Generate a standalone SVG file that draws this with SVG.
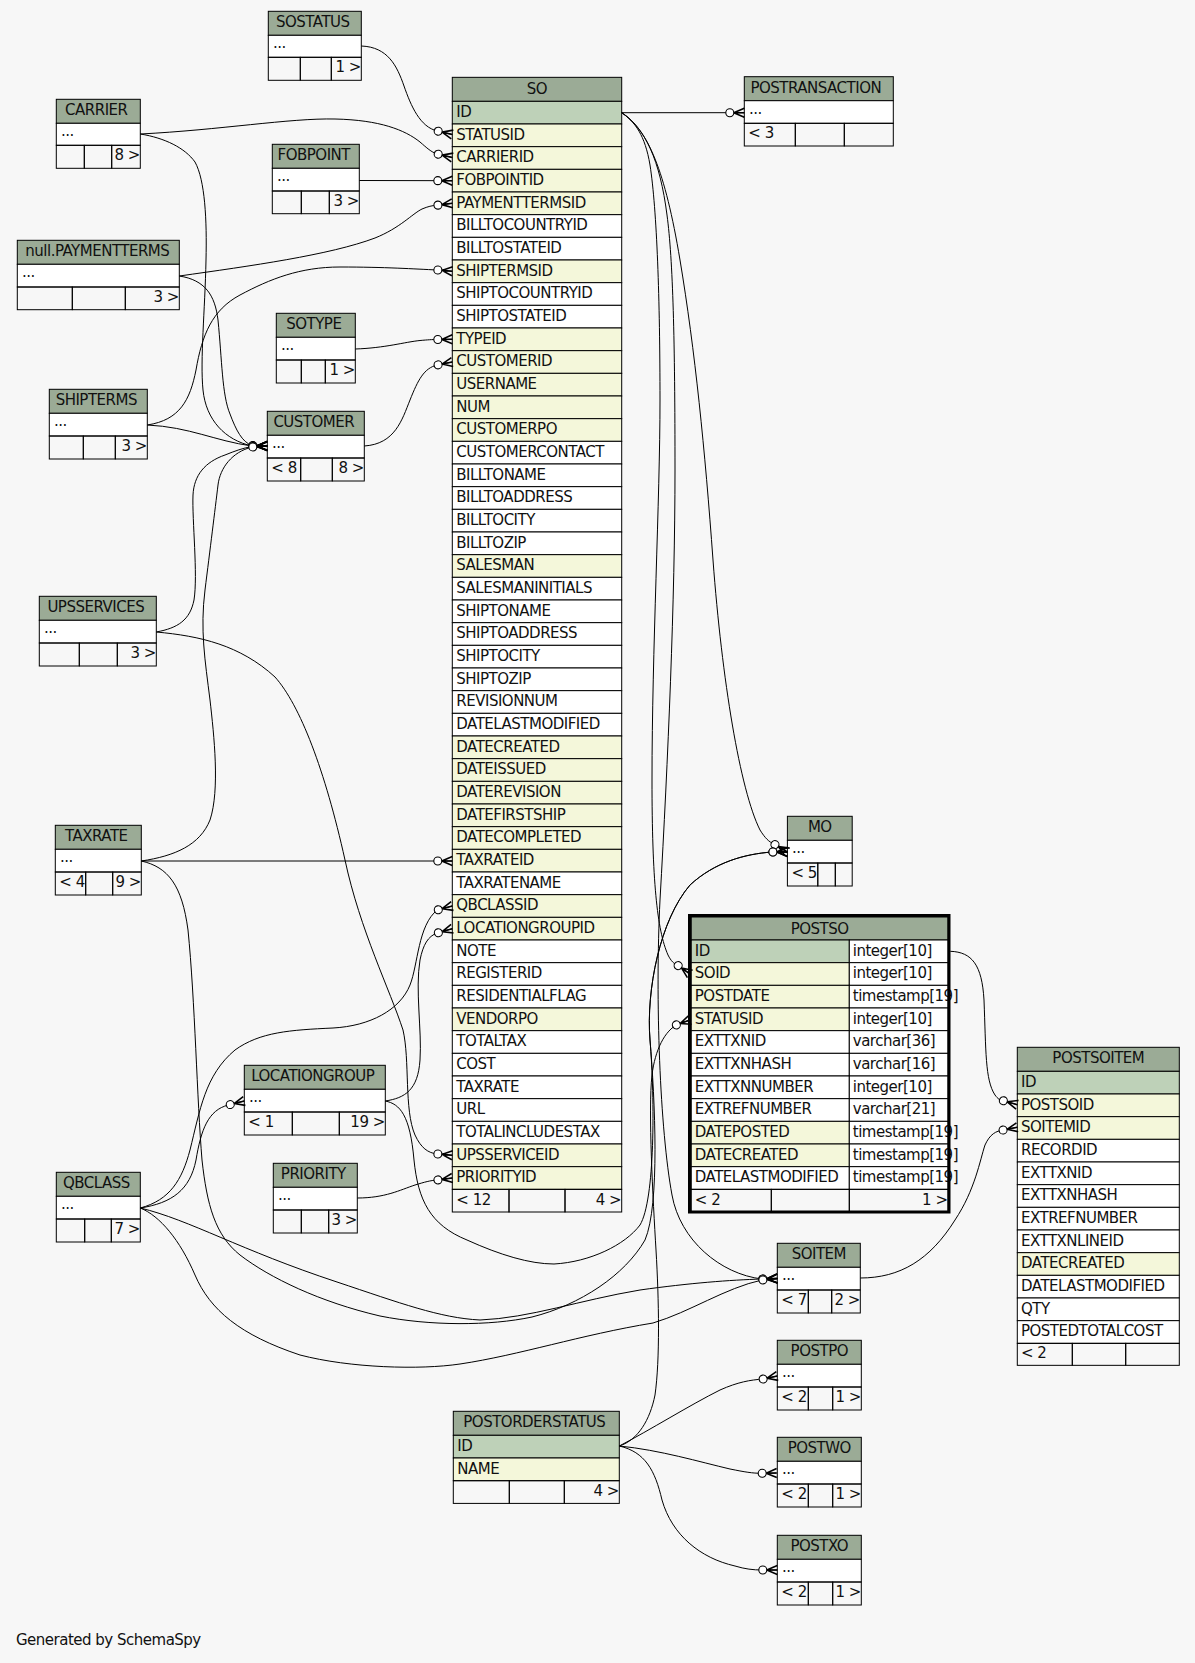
<svg xmlns="http://www.w3.org/2000/svg" width="1195" height="1663" viewBox="0 0 1195 1663">
<style>
text{font-family:"DejaVu Sans","Liberation Sans",sans-serif;font-size:15px;letter-spacing:-0.5px;fill:#111}
.m{text-anchor:middle}.r{text-anchor:end}
.h{fill:#9bab96;stroke:#000;stroke-width:1}
.k{fill:#bed1b8;stroke:#000;stroke-width:1}
.i{fill:#f4f7da;stroke:#000;stroke-width:1}
.w{fill:#fff;stroke:#000;stroke-width:1}
.f{fill:none;stroke:#000;stroke-width:1}
.e{fill:none;stroke:#000;stroke-width:1;marker-end:url(#cf)}
</style>
<defs>
<marker id="cf" markerUnits="userSpaceOnUse" markerWidth="20" markerHeight="12" viewBox="0 0 20 12" refX="19" refY="6" orient="auto" overflow="visible">
<path d="M8.5,6 L19,1.5 M8.5,6 L19,6 M8.5,6 L19,10.5" fill="none" stroke="#000" stroke-width="1.6"/>
<circle cx="4.5" cy="6" r="4" fill="#fff" stroke="#000" stroke-width="1.1"/>
</marker>
</defs>
<rect width="1195" height="1663" fill="#f7f7f7"/>

<g id="SOSTATUS">
<rect class="h" x="268.3" y="11.3" width="93" height="24"/><text class="m" x="312.8" y="27.3">SOSTATUS</text>
<rect class="w" x="268.3" y="35.3" width="93" height="22"/><text x="273" y="48.3">...</text>
<rect class="f" x="268.3" y="57.3" width="32" height="23"/><rect class="f" x="300.3" y="57.3" width="31" height="23"/><rect class="f" x="331.3" y="57.3" width="30" height="23"/>
<text class="r" x="360.8" y="72.3">1 &gt;</text>
</g>

<g id="CARRIER">
<rect class="h" x="56.3" y="99.3" width="84" height="24"/><text class="m" x="96.3" y="115.3">CARRIER</text>
<rect class="w" x="56.3" y="123.3" width="84" height="22"/><text x="61" y="136.3">...</text>
<rect class="f" x="56.3" y="145.3" width="28" height="23"/><rect class="f" x="84.3" y="145.3" width="27.4" height="23"/><rect class="f" x="111.7" y="145.3" width="28.6" height="23"/>
<text class="r" x="139.8" y="160.3">8 &gt;</text>
</g>

<g id="FOBPOINT">
<rect class="h" x="272.3" y="144.3" width="87" height="24"/><text class="m" x="313.8" y="160.3">FOBPOINT</text>
<rect class="w" x="272.3" y="168.3" width="87" height="22.7"/><text x="277" y="181.3">...</text>
<rect class="f" x="272.3" y="191" width="29" height="22.7"/><rect class="f" x="301.3" y="191" width="28" height="22.7"/><rect class="f" x="329.3" y="191" width="30" height="22.7"/>
<text class="r" x="358.8" y="206">3 &gt;</text>
</g>

<g id="null_PAYMENTTERMS">
<rect class="h" x="17.3" y="240.3" width="162" height="24"/><text class="m" x="97.3" y="256.3">null.PAYMENTTERMS</text>
<rect class="w" x="17.3" y="264.3" width="162" height="22.7"/><text x="22" y="277.3">...</text>
<rect class="f" x="17.3" y="287" width="55" height="22.7"/><rect class="f" x="72.3" y="287" width="53" height="22.7"/><rect class="f" x="125.3" y="287" width="54" height="22.7"/>
<text class="r" x="178.8" y="302">3 &gt;</text>
</g>

<g id="POSTRANSACTION">
<rect class="h" x="744.3" y="76.7" width="149" height="24"/><text class="m" x="815.8" y="92.7">POSTRANSACTION</text>
<rect class="w" x="744.3" y="100.7" width="149" height="22.6"/><text x="749" y="113.7">...</text>
<rect class="f" x="744.3" y="123.3" width="51" height="22.7"/><rect class="f" x="795.3" y="123.3" width="49" height="22.7"/><rect class="f" x="844.3" y="123.3" width="49" height="22.7"/>
<text x="748.3" y="138.3">&lt; 3</text>
</g>

<g id="SOTYPE">
<rect class="h" x="276.3" y="313.3" width="79" height="24"/><text class="m" x="313.8" y="329.3">SOTYPE</text>
<rect class="w" x="276.3" y="337.3" width="79" height="22.7"/><text x="281" y="350.3">...</text>
<rect class="f" x="276.3" y="360" width="25" height="23"/><rect class="f" x="301.3" y="360" width="24" height="23"/><rect class="f" x="325.3" y="360" width="30" height="23"/>
<text class="r" x="354.8" y="375">1 &gt;</text>
</g>

<g id="SHIPTERMS">
<rect class="h" x="49.3" y="389.3" width="98" height="24"/><text class="m" x="96.3" y="405.3">SHIPTERMS</text>
<rect class="w" x="49.3" y="413.3" width="98" height="22.7"/><text x="54" y="426.3">...</text>
<rect class="f" x="49.3" y="436" width="34" height="23"/><rect class="f" x="83.3" y="436" width="32" height="23"/><rect class="f" x="115.3" y="436" width="32" height="23"/>
<text class="r" x="146.8" y="451">3 &gt;</text>
</g>

<g id="CUSTOMER">
<rect class="h" x="267.3" y="411.3" width="97" height="24"/><text class="m" x="313.8" y="427.3">CUSTOMER</text>
<rect class="w" x="267.3" y="435.3" width="97" height="22.7"/><text x="272" y="448.3">...</text>
<rect class="f" x="267.3" y="458" width="33.4" height="23"/><rect class="f" x="300.7" y="458" width="31.6" height="23"/><rect class="f" x="332.3" y="458" width="32" height="23"/>
<text x="271.3" y="473">&lt; 8</text><text class="r" x="363.8" y="473">8 &gt;</text>
</g>

<g id="UPSSERVICES">
<rect class="h" x="39.3" y="596.3" width="117" height="24"/><text class="m" x="95.8" y="612.3">UPSSERVICES</text>
<rect class="w" x="39.3" y="620.3" width="117" height="22.7"/><text x="44" y="633.3">...</text>
<rect class="f" x="39.3" y="643" width="40" height="23"/><rect class="f" x="79.3" y="643" width="38" height="23"/><rect class="f" x="117.3" y="643" width="39" height="23"/>
<text class="r" x="155.8" y="658">3 &gt;</text>
</g>

<g id="TAXRATE">
<rect class="h" x="55.3" y="825.3" width="86" height="24"/><text class="m" x="96.3" y="841.3">TAXRATE</text>
<rect class="w" x="55.3" y="849.3" width="86" height="22.7"/><text x="60" y="862.3">...</text>
<rect class="f" x="55.3" y="872" width="30.4" height="23"/><rect class="f" x="85.7" y="872" width="27" height="23"/><rect class="f" x="112.7" y="872" width="28.6" height="23"/>
<text x="59.3" y="887">&lt; 4</text><text class="r" x="140.8" y="887">9 &gt;</text>
</g>

<g id="LOCATIONGROUP">
<rect class="h" x="244.3" y="1065.3" width="141" height="24"/><text class="m" x="312.8" y="1081.3">LOCATIONGROUP</text>
<rect class="w" x="244.3" y="1089.3" width="141" height="22.7"/><text x="249" y="1102.3">...</text>
<rect class="f" x="244.3" y="1112" width="48" height="23"/><rect class="f" x="292.3" y="1112" width="47" height="23"/><rect class="f" x="339.3" y="1112" width="46" height="23"/>
<text x="248.3" y="1127">&lt; 1</text><text class="r" x="384.8" y="1127">19 &gt;</text>
</g>

<g id="PRIORITY">
<rect class="h" x="273.3" y="1163.3" width="84" height="24"/><text class="m" x="313.3" y="1179.3">PRIORITY</text>
<rect class="w" x="273.3" y="1187.3" width="84" height="22.7"/><text x="278" y="1200.3">...</text>
<rect class="f" x="273.3" y="1210" width="28" height="23"/><rect class="f" x="301.3" y="1210" width="27.4" height="23"/><rect class="f" x="328.7" y="1210" width="28.6" height="23"/>
<text class="r" x="356.8" y="1225">3 &gt;</text>
</g>

<g id="QBCLASS">
<rect class="h" x="56.3" y="1172.3" width="84" height="24"/><text class="m" x="96.3" y="1188.3">QBCLASS</text>
<rect class="w" x="56.3" y="1196.3" width="84" height="22.7"/><text x="61" y="1209.3">...</text>
<rect class="f" x="56.3" y="1219" width="28.4" height="23"/><rect class="f" x="84.7" y="1219" width="26.6" height="23"/><rect class="f" x="111.3" y="1219" width="29" height="23"/>
<text class="r" x="139.8" y="1234">7 &gt;</text>
</g>

<g id="MO">
<rect class="h" x="787.4" y="816.3" width="64.8" height="24"/><text class="m" x="819.8" y="832.3">MO</text>
<rect class="w" x="787.4" y="840.3" width="64.8" height="22.7"/><text x="792" y="853.3">...</text>
<rect class="f" x="787.4" y="863" width="30.4" height="23"/><rect class="f" x="817.8" y="863" width="17.5" height="23"/><rect class="f" x="835.3" y="863" width="16.9" height="23"/>
<text x="791.4" y="878">&lt; 5</text>
</g>

<g id="SOITEM">
<rect class="h" x="777.3" y="1243.3" width="83" height="24"/><text class="m" x="818.8" y="1259.3">SOITEM</text>
<rect class="w" x="777.3" y="1267.3" width="83" height="22.7"/><text x="782" y="1280.3">...</text>
<rect class="f" x="777.3" y="1290" width="31" height="23"/><rect class="f" x="808.3" y="1290" width="23.4" height="23"/><rect class="f" x="831.7" y="1290" width="28.6" height="23"/>
<text x="781.3" y="1305">&lt; 7</text><text class="r" x="859.8" y="1305">2 &gt;</text>
</g>

<g id="POSTPO">
<rect class="h" x="777.3" y="1340.3" width="84" height="24"/><text class="m" x="819.3" y="1356.3">POSTPO</text>
<rect class="w" x="777.3" y="1364.3" width="84" height="22.7"/><text x="782" y="1377.3">...</text>
<rect class="f" x="777.3" y="1387" width="31" height="23"/><rect class="f" x="808.3" y="1387" width="24.4" height="23"/><rect class="f" x="832.7" y="1387" width="28.6" height="23"/>
<text x="781.3" y="1402">&lt; 2</text><text class="r" x="860.8" y="1402">1 &gt;</text>
</g>

<g id="POSTWO">
<rect class="h" x="777.3" y="1437.3" width="84" height="24"/><text class="m" x="819.3" y="1453.3">POSTWO</text>
<rect class="w" x="777.3" y="1461.3" width="84" height="22.7"/><text x="782" y="1474.3">...</text>
<rect class="f" x="777.3" y="1484" width="31" height="23"/><rect class="f" x="808.3" y="1484" width="24.4" height="23"/><rect class="f" x="832.7" y="1484" width="28.6" height="23"/>
<text x="781.3" y="1499">&lt; 2</text><text class="r" x="860.8" y="1499">1 &gt;</text>
</g>

<g id="POSTXO">
<rect class="h" x="777.3" y="1535.3" width="84" height="24"/><text class="m" x="819.3" y="1551.3">POSTXO</text>
<rect class="w" x="777.3" y="1559.3" width="84" height="22.7"/><text x="782" y="1572.3">...</text>
<rect class="f" x="777.3" y="1582" width="31" height="23"/><rect class="f" x="808.3" y="1582" width="24.4" height="23"/><rect class="f" x="832.7" y="1582" width="28.6" height="23"/>
<text x="781.3" y="1597">&lt; 2</text><text class="r" x="860.8" y="1597">1 &gt;</text>
</g>

<g id="POSTORDERSTATUS">
<rect class="h" x="453.3" y="1411.3" width="166" height="24"/><text class="m" x="534.3" y="1427.3">POSTORDERSTATUS</text>
<rect class="k" x="453.3" y="1435.3" width="166" height="22.7"/><text x="457.3" y="1450.8">ID</text>
<rect class="i" x="453.3" y="1458" width="166" height="22.7"/><text x="457.3" y="1473.5">NAME</text>
<rect class="f" x="453.3" y="1480.7" width="56" height="22.7"/><rect class="f" x="509.3" y="1480.7" width="55" height="22.7"/><rect class="f" x="564.3" y="1480.7" width="55" height="22.7"/>
<text class="r" x="618.8" y="1495.7">4 &gt;</text>
</g>

<g id="SO">
<rect class="h" x="452.3" y="77.33" width="169.4" height="24"/><text class="m" x="537" y="93.5">SO</text>
<rect class="k" x="452.3" y="101.33" width="169.4" height="22.67"/><text x="456.3" y="116.8">ID</text>
<rect class="i" x="452.3" y="124" width="169.4" height="22.67"/><text x="456.3" y="139.5">STATUSID</text>
<rect class="i" x="452.3" y="146.67" width="169.4" height="22.67"/><text x="456.3" y="162.2">CARRIERID</text>
<rect class="i" x="452.3" y="169.33" width="169.4" height="22.67"/><text x="456.3" y="184.8">FOBPOINTID</text>
<rect class="i" x="452.3" y="192" width="169.4" height="22.67"/><text x="456.3" y="207.5">PAYMENTTERMSID</text>
<rect class="w" x="452.3" y="214.67" width="169.4" height="22.67"/><text x="456.3" y="230.2">BILLTOCOUNTRYID</text>
<rect class="w" x="452.3" y="237.33" width="169.4" height="22.67"/><text x="456.3" y="252.8">BILLTOSTATEID</text>
<rect class="i" x="452.3" y="260" width="169.4" height="22.67"/><text x="456.3" y="275.5">SHIPTERMSID</text>
<rect class="w" x="452.3" y="282.67" width="169.4" height="22.67"/><text x="456.3" y="298.2">SHIPTOCOUNTRYID</text>
<rect class="w" x="452.3" y="305.33" width="169.4" height="22.67"/><text x="456.3" y="320.8">SHIPTOSTATEID</text>
<rect class="i" x="452.3" y="328" width="169.4" height="22.67"/><text x="456.3" y="343.5">TYPEID</text>
<rect class="i" x="452.3" y="350.67" width="169.4" height="22.67"/><text x="456.3" y="366.2">CUSTOMERID</text>
<rect class="i" x="452.3" y="373.33" width="169.4" height="22.67"/><text x="456.3" y="388.8">USERNAME</text>
<rect class="i" x="452.3" y="396" width="169.4" height="22.67"/><text x="456.3" y="411.5">NUM</text>
<rect class="i" x="452.3" y="418.67" width="169.4" height="22.67"/><text x="456.3" y="434.2">CUSTOMERPO</text>
<rect class="w" x="452.3" y="441.33" width="169.4" height="22.67"/><text x="456.3" y="456.8">CUSTOMERCONTACT</text>
<rect class="w" x="452.3" y="464" width="169.4" height="22.67"/><text x="456.3" y="479.5">BILLTONAME</text>
<rect class="w" x="452.3" y="486.67" width="169.4" height="22.67"/><text x="456.3" y="502.2">BILLTOADDRESS</text>
<rect class="w" x="452.3" y="509.33" width="169.4" height="22.67"/><text x="456.3" y="524.8">BILLTOCITY</text>
<rect class="w" x="452.3" y="532" width="169.4" height="22.67"/><text x="456.3" y="547.5">BILLTOZIP</text>
<rect class="i" x="452.3" y="554.67" width="169.4" height="22.67"/><text x="456.3" y="570.2">SALESMAN</text>
<rect class="w" x="452.3" y="577.33" width="169.4" height="22.67"/><text x="456.3" y="592.8">SALESMANINITIALS</text>
<rect class="w" x="452.3" y="600" width="169.4" height="22.67"/><text x="456.3" y="615.5">SHIPTONAME</text>
<rect class="w" x="452.3" y="622.67" width="169.4" height="22.67"/><text x="456.3" y="638.2">SHIPTOADDRESS</text>
<rect class="w" x="452.3" y="645.33" width="169.4" height="22.67"/><text x="456.3" y="660.8">SHIPTOCITY</text>
<rect class="w" x="452.3" y="668" width="169.4" height="22.67"/><text x="456.3" y="683.5">SHIPTOZIP</text>
<rect class="w" x="452.3" y="690.67" width="169.4" height="22.67"/><text x="456.3" y="706.2">REVISIONNUM</text>
<rect class="w" x="452.3" y="713.33" width="169.4" height="22.67"/><text x="456.3" y="728.8">DATELASTMODIFIED</text>
<rect class="i" x="452.3" y="736" width="169.4" height="22.67"/><text x="456.3" y="751.5">DATECREATED</text>
<rect class="i" x="452.3" y="758.67" width="169.4" height="22.67"/><text x="456.3" y="774.2">DATEISSUED</text>
<rect class="i" x="452.3" y="781.33" width="169.4" height="22.67"/><text x="456.3" y="796.8">DATEREVISION</text>
<rect class="i" x="452.3" y="804" width="169.4" height="22.67"/><text x="456.3" y="819.5">DATEFIRSTSHIP</text>
<rect class="i" x="452.3" y="826.67" width="169.4" height="22.67"/><text x="456.3" y="842.2">DATECOMPLETED</text>
<rect class="i" x="452.3" y="849.33" width="169.4" height="22.67"/><text x="456.3" y="864.8">TAXRATEID</text>
<rect class="w" x="452.3" y="872" width="169.4" height="22.67"/><text x="456.3" y="887.5">TAXRATENAME</text>
<rect class="i" x="452.3" y="894.67" width="169.4" height="22.67"/><text x="456.3" y="910.2">QBCLASSID</text>
<rect class="i" x="452.3" y="917.33" width="169.4" height="22.67"/><text x="456.3" y="932.8">LOCATIONGROUPID</text>
<rect class="w" x="452.3" y="940" width="169.4" height="22.67"/><text x="456.3" y="955.5">NOTE</text>
<rect class="w" x="452.3" y="962.67" width="169.4" height="22.67"/><text x="456.3" y="978.2">REGISTERID</text>
<rect class="w" x="452.3" y="985.33" width="169.4" height="22.67"/><text x="456.3" y="1000.8">RESIDENTIALFLAG</text>
<rect class="i" x="452.3" y="1008" width="169.4" height="22.67"/><text x="456.3" y="1023.5">VENDORPO</text>
<rect class="w" x="452.3" y="1030.67" width="169.4" height="22.67"/><text x="456.3" y="1046.2">TOTALTAX</text>
<rect class="w" x="452.3" y="1053.33" width="169.4" height="22.67"/><text x="456.3" y="1068.8">COST</text>
<rect class="w" x="452.3" y="1076" width="169.4" height="22.67"/><text x="456.3" y="1091.5">TAXRATE</text>
<rect class="w" x="452.3" y="1098.67" width="169.4" height="22.67"/><text x="456.3" y="1114.2">URL</text>
<rect class="w" x="452.3" y="1121.33" width="169.4" height="22.67"/><text x="456.3" y="1136.8">TOTALINCLUDESTAX</text>
<rect class="i" x="452.3" y="1144" width="169.4" height="22.67"/><text x="456.3" y="1159.5">UPSSERVICEID</text>
<rect class="i" x="452.3" y="1166.67" width="169.4" height="22.67"/><text x="456.3" y="1182.2">PRIORITYID</text>
<rect class="f" x="452.3" y="1189.33" width="56.7" height="22.67"/><rect class="f" x="509" y="1189.33" width="56" height="22.67"/><rect class="f" x="565" y="1189.33" width="56.7" height="22.67"/>
<text x="456.3" y="1204.5">&lt; 12</text><text class="r" x="621.2" y="1204.5">4 &gt;</text>
</g>

<g id="POSTSO">
<rect class="h" x="691.3" y="917" width="256.7" height="23"/><text class="m" x="819.6" y="933.5">POSTSO</text>
<rect class="k" x="691.3" y="940" width="158" height="22.67"/><rect class="w" x="849.3" y="940" width="98.7" height="22.67"/><text x="694.8" y="955.5">ID</text><text x="852.8" y="955.5">integer[10]</text>
<rect class="i" x="691.3" y="962.67" width="158" height="22.67"/><rect class="w" x="849.3" y="962.67" width="98.7" height="22.67"/><text x="694.8" y="978.2">SOID</text><text x="852.8" y="978.2">integer[10]</text>
<rect class="i" x="691.3" y="985.33" width="158" height="22.67"/><rect class="w" x="849.3" y="985.33" width="98.7" height="22.67"/><text x="694.8" y="1000.8">POSTDATE</text><text x="852.8" y="1000.8">timestamp[19]</text>
<rect class="i" x="691.3" y="1008" width="158" height="22.67"/><rect class="w" x="849.3" y="1008" width="98.7" height="22.67"/><text x="694.8" y="1023.5">STATUSID</text><text x="852.8" y="1023.5">integer[10]</text>
<rect class="w" x="691.3" y="1030.67" width="158" height="22.67"/><rect class="w" x="849.3" y="1030.67" width="98.7" height="22.67"/><text x="694.8" y="1046.2">EXTTXNID</text><text x="852.8" y="1046.2">varchar[36]</text>
<rect class="w" x="691.3" y="1053.33" width="158" height="22.67"/><rect class="w" x="849.3" y="1053.33" width="98.7" height="22.67"/><text x="694.8" y="1068.8">EXTTXNHASH</text><text x="852.8" y="1068.8">varchar[16]</text>
<rect class="w" x="691.3" y="1076" width="158" height="22.67"/><rect class="w" x="849.3" y="1076" width="98.7" height="22.67"/><text x="694.8" y="1091.5">EXTTXNNUMBER</text><text x="852.8" y="1091.5">integer[10]</text>
<rect class="w" x="691.3" y="1098.67" width="158" height="22.67"/><rect class="w" x="849.3" y="1098.67" width="98.7" height="22.67"/><text x="694.8" y="1114.2">EXTREFNUMBER</text><text x="852.8" y="1114.2">varchar[21]</text>
<rect class="i" x="691.3" y="1121.33" width="158" height="22.67"/><rect class="w" x="849.3" y="1121.33" width="98.7" height="22.67"/><text x="694.8" y="1136.8">DATEPOSTED</text><text x="852.8" y="1136.8">timestamp[19]</text>
<rect class="i" x="691.3" y="1144" width="158" height="22.67"/><rect class="w" x="849.3" y="1144" width="98.7" height="22.67"/><text x="694.8" y="1159.5">DATECREATED</text><text x="852.8" y="1159.5">timestamp[19]</text>
<rect class="w" x="691.3" y="1166.67" width="158" height="22.67"/><rect class="w" x="849.3" y="1166.67" width="98.7" height="22.67"/><text x="694.8" y="1182.2">DATELASTMODIFIED</text><text x="852.8" y="1182.2">timestamp[19]</text>
<rect class="f" x="691.3" y="1189.33" width="80" height="22.67"/><rect class="f" x="771.3" y="1189.33" width="78" height="22.67"/><rect class="f" x="849.3" y="1189.33" width="98.7" height="22.67"/>
<text x="694.8" y="1204.5">&lt; 2</text><text class="r" x="947.5" y="1204.5">1 &gt;</text>
<rect x="689.5" y="915.5" width="259.5" height="296.5" fill="none" stroke="#000" stroke-width="3"/>
</g>

<g id="POSTSOITEM">
<rect class="h" x="1017.3" y="1047.3" width="162" height="24"/><text class="m" x="1098.3" y="1063.3">POSTSOITEM</text>
<rect class="k" x="1017.3" y="1071.33" width="162" height="22.67"/><text x="1021" y="1086.8">ID</text>
<rect class="i" x="1017.3" y="1094" width="162" height="22.67"/><text x="1021" y="1109.5">POSTSOID</text>
<rect class="i" x="1017.3" y="1116.67" width="162" height="22.67"/><text x="1021" y="1132.2">SOITEMID</text>
<rect class="w" x="1017.3" y="1139.33" width="162" height="22.67"/><text x="1021" y="1154.8">RECORDID</text>
<rect class="w" x="1017.3" y="1162" width="162" height="22.67"/><text x="1021" y="1177.5">EXTTXNID</text>
<rect class="w" x="1017.3" y="1184.67" width="162" height="22.67"/><text x="1021" y="1200.2">EXTTXNHASH</text>
<rect class="w" x="1017.3" y="1207.33" width="162" height="22.67"/><text x="1021" y="1222.8">EXTREFNUMBER</text>
<rect class="w" x="1017.3" y="1230" width="162" height="22.67"/><text x="1021" y="1245.5">EXTTXNLINEID</text>
<rect class="i" x="1017.3" y="1252.67" width="162" height="22.67"/><text x="1021" y="1268.2">DATECREATED</text>
<rect class="w" x="1017.3" y="1275.33" width="162" height="22.67"/><text x="1021" y="1290.8">DATELASTMODIFIED</text>
<rect class="w" x="1017.3" y="1298" width="162" height="22.67"/><text x="1021" y="1313.5">QTY</text>
<rect class="w" x="1017.3" y="1320.67" width="162" height="22.67"/><text x="1021" y="1336.2">POSTEDTOTALCOST</text>
<rect class="f" x="1017.3" y="1343.33" width="55" height="22"/><rect class="f" x="1072.3" y="1343.33" width="53.4" height="22"/><rect class="f" x="1125.7" y="1343.33" width="53.6" height="22"/>
<text x="1021" y="1358.3">&lt; 2</text>
</g>

<g id="connectors">
<path class="e" d="M361.3,46 C388,47 397,66 404,86 C411,106 420,127 437.3,131 L452.3,134.5"/>
<path class="e" d="M140.3,134 C220,130 290,118 335,119 C380,120 405,130 420,142 C427,148 431,152 437.3,154 L452.3,157.5"/>
<path class="e" d="M359.3,180.5 L452.3,180.7"/>
<path class="e" d="M179.3,276 C250,266 330,255 375,238 C400,228 412,214 422,209 C428,206.5 432,205.5 437.3,205.2 L452.3,203.3"/>
<path class="e" d="M147.3,425 C180,420 190,400 196,370 C202,335 212,310 240,295 C270,279 300,267 340,267 C385,267 415,269 437.3,270 L452.3,271.3"/>
<path class="e" d="M355.3,349 C385,348 405,342 420,340.5 C428,339.8 432,339.5 437.3,339.5 L452.3,339.3"/>
<path class="e" d="M364.3,446 C395,444 402,420 410,400 C418,380 424,368 437.3,365 L452.3,362"/>
<path class="e" d="M141.3,861 L452.3,861"/>
<path class="e" d="M140.3,1208 C170,1200 182,1180 190,1150 C200,1110 205,1075 235,1050 C260,1032 290,1030 333,1028 C370,1026 400,1010 410,985 C418,965 418,925 437.3,910 L452.3,906"/>
<path class="e" d="M385.3,1101 C405,1098 418,1090 420,1060 C422,1030 415,990 420,960 C423,945 428,936 437.3,933 L452.3,928.7"/>
<path class="e" d="M156.3,632 C200,636 240,645 275,677 C300,705 325,770 345,860 C360,930 390,990 403,1030 C410,1060 404,1110 415,1135 C421,1148 428,1153 437.3,1154 L452.3,1155.3"/>
<path class="e" d="M357.3,1198 C385,1198 400,1190 415,1185 C425,1182 430,1180.5 437.3,1180 L452.3,1178"/>
<path class="e" d="M140.3,134 C165,138 185,148 195,162 C205,180 207,220 206,260 C205,310 200,360 203,390 C206,420 225,440 252,446 L267.3,446"/>
<path class="e" d="M179.3,276 C205,280 215,295 218,320 C222,360 222,395 230,414 C236,430 242,442 252,445.5 L267.3,446"/>
<path class="e" d="M147.3,425 C190,427 215,441 252,446 L267.3,446"/>
<path class="e" d="M156.3,632 C178,628 190,620 194,600 C198,575 192,520 193,495 C194,475 205,462 225,455 C235,451 243,448 252,446.5 L267.3,446"/>
<path class="e" d="M141.3,861 C175,856 200,845 210,820 C220,790 214,735 210,700 C205,660 200,630 205,590 C210,550 215,510 218,485 C220,468 232,452 252,447 L267.3,446"/>
<path class="e" d="M621.7,112.7 L744.3,112.7"/>
<path class="e" d="M621.7,112.7 C635,122 645,135 650,165 C657,210 660,300 660,400 C660,500 652,650 652,780 C652,880 657,930 668,955 C671,961 674,964 678,965.5 L690,974"/>
<path class="e" d="M621.7,112.7 C645,128 660,160 667,215 C673,260 675,340 675,470 C675,600 668,760 660,900 C655,1000 660,1130 672,1195 C680,1240 720,1274 762,1279 L777.3,1278.5"/>
<path class="e" d="M621.7,112.7 C648,130 665,170 680,260 C695,350 705,450 713,560 C722,680 740,790 760,830 C765,838 769,842 774,844 L787.4,852"/>
<path class="e" d="M141.3,861 C168,867 182,885 188,930 C195,1000 197,1100 202,1160 C207,1205 215,1235 240,1255 C270,1278 320,1302 380,1316 C430,1326 490,1326 532,1317 C580,1305 625,1275 645,1240 C660,1205 655,1100 650,1040 C646,990 660,920 690,885 C715,862 745,854 772,852 L787.4,852"/>
<path class="e" d="M385.3,1101 C400,1104 410,1115 414,1160 C418,1200 430,1225 467,1240 C500,1255 530,1264 554,1264 C590,1262 625,1245 640,1225 C655,1200 655,1100 650,1040 C646,990 660,920 690,885 C715,862 745,854 772,852 L787.4,852"/>
<path class="e" d="M140.3,1208 C190,1220 240,1250 337,1282 C400,1303 440,1318 480,1320 C530,1318 580,1300 640,1290 C690,1283 730,1280 762,1279 L777.3,1278.5"/>
<path class="e" d="M140.3,1208 C160,1216 180,1240 195,1275 C210,1310 240,1335 300,1355 C350,1368 420,1370 460,1364 C520,1355 580,1335 653,1323 C690,1312 725,1288 762,1280 L777.3,1278.5"/>
<path class="e" d="M140.3,1208 C172,1203 190,1190 196,1160 C201,1130 208,1110 228.4,1105 L244.3,1101"/>
<path class="e" d="M619.3,1446 C638,1440 650,1420 655,1395 C660,1360 659,1300 656,1250 C653,1200 648,1110 652,1075 C655,1050 665,1030 678,1024.3 L690,1020"/>
<path class="e" d="M619.3,1446 C650,1430 690,1405 720,1390 C738,1382 750,1380 763.3,1379 L777.3,1376"/>
<path class="e" d="M619.3,1446 C660,1450 700,1462 730,1469 C745,1472 752,1473.3 762,1473.3 L776.7,1473"/>
<path class="e" d="M619.3,1446 C645,1452 655,1470 662,1500 C672,1535 700,1558 735,1566 C745,1569 753,1570 762.3,1570 L777.3,1570"/>
<path class="e" d="M950.3,951.3 C972,952 982,965 984,1000 C986,1050 985,1080 995,1095 C998,1099 1000,1100.5 1003.3,1100.7 L1017.3,1104.7"/>
<path class="e" d="M860.3,1278 C900,1278 930,1260 955,1220 C975,1190 980,1160 985,1145 C990,1134 996,1131 1003.3,1130 L1017.3,1127.3"/>
</g>

<text x="16" y="1645">Generated by SchemaSpy</text>
</svg>
